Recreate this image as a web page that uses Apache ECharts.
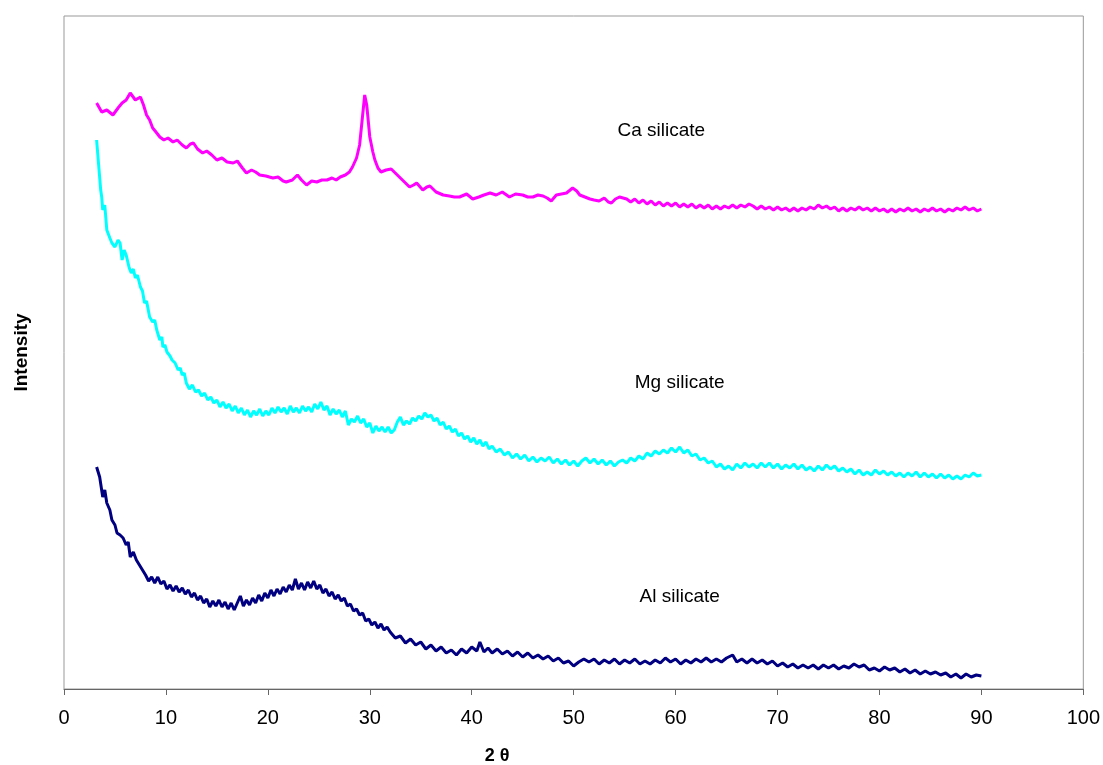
<!DOCTYPE html>
<html><head><meta charset="utf-8">
<script src="https://cdn.jsdelivr.net/npm/echarts@6/dist/echarts.min.js"></script>
<style>html,body{margin:0;padding:0;background:#fff}#c{width:1103px;height:765px}</style>
</head><body><div id="c"></div>
<script>
const xTicks = [0,10,20,30,40,50,60,70,80,90,100];
const seriesNames = ['Ca silicate','Mg silicate','Al silicate'];
const caSilicate = [[3.2,586],[3.7,577],[4.2,579],[4.8,574],[5.3,581],[5.7,586],[6.1,589],[6.5,596],[7.0,589],[7.5,592],[7.8,584],[8.1,574],[8.4,569],[8.7,561],[9.1,556],[9.4,552],[9.8,549],[10.2,551],[10.7,547],[11.1,549],[11.6,544],[12.0,541],[12.4,545],[12.7,546],[13.1,540],[13.6,536],[14.0,538],[14.5,534],[15.0,529],[15.5,531],[16.0,527],[16.6,526],[17.0,528],[17.5,521],[17.9,516],[18.4,519],[18.8,517],[19.2,514],[19.8,513],[20.5,511],[21.0,512],[21.5,508],[21.8,507],[22.4,509],[22.9,514],[23.3,509],[23.8,504],[24.3,508],[24.8,507],[25.3,509],[25.8,509],[26.3,511],[26.7,509],[27.1,512],[27.6,514],[28.0,517],[28.3,522],[28.7,531],[29.0,544],[29.3,574],[29.5,594],[29.7,584],[30.0,552],[30.3,537],[30.5,529],[30.8,521],[31.1,517],[31.6,519],[32.1,520],[32.5,516],[32.9,512],[33.4,507],[33.9,502],[34.3,504],[34.6,506],[35.2,499],[35.6,502],[35.9,503],[36.5,497],[37.2,494],[37.8,493],[38.3,492],[38.8,492],[39.5,495],[40.1,490],[40.7,492],[41.2,494],[41.8,496],[42.4,494],[43.0,497],[43.7,492],[44.3,495],[45.0,494],[45.5,492],[46.0,492],[46.5,494],[47.0,493],[47.4,491],[47.8,488],[48.3,494],[48.8,495],[49.3,496],[49.9,501],[50.3,498],[50.6,494],[51.1,492],[51.6,490],[52.0,489],[52.5,488],[53.0,491],[53.4,487],[53.7,486],[54.1,490],[54.5,492],[55.2,490],[55.6,487],[56.0,490],[56.4,486],[56.8,489],[57.2,485],[57.6,488],[58.0,484],[58.4,487],[58.8,483],[59.2,486],[59.6,483],[60.0,486],[60.4,482],[60.8,485],[61.2,482],[61.6,485],[62.0,481],[62.4,484],[62.8,481],[63.2,484],[63.6,480],[64.0,483],[64.4,480],[64.8,483],[65.2,481],[65.6,484],[66.0,481],[66.4,484],[66.8,482],[67.2,485],[67.6,483],[68.0,480],[68.4,483],[68.8,480],[69.2,482],[69.6,479],[70.0,482],[70.4,479],[70.8,481],[71.2,478],[71.6,481],[72.0,478],[72.4,481],[72.8,479],[73.2,482],[73.6,480],[74.0,484],[74.4,481],[74.8,483],[75.2,480],[75.6,482],[76.0,478],[76.4,481],[76.8,478],[77.2,481],[77.6,479],[78.0,482],[78.4,479],[78.8,481],[79.2,478],[79.6,481],[80.0,478],[80.4,480],[80.8,477],[81.2,480],[81.6,477],[82.0,480],[82.4,478],[82.8,481],[83.2,478],[83.6,480],[84.0,477],[84.4,480],[84.8,478],[85.2,481],[85.6,478],[86.0,480],[86.4,477],[86.8,480],[87.2,478],[87.6,481],[88.0,479],[88.4,482],[88.8,479],[89.2,481],[89.6,478],[90.0,480]];
const mgSilicate = [[3.2,549],[3.4,524],[3.6,499],[3.7,492],[3.8,479],[4.0,484],[4.2,459],[4.5,451],[4.7,446],[5.0,442],[5.3,449],[5.5,446],[5.7,429],[5.9,439],[6.1,434],[6.4,421],[6.6,416],[6.8,420],[7.0,411],[7.2,414],[7.5,402],[7.7,398],[7.9,386],[8.1,388],[8.4,372],[8.7,367],[8.9,369],[9.1,359],[9.4,349],[9.6,352],[9.7,342],[9.9,344],[10.1,337],[10.4,333],[10.6,329],[10.9,326],[11.2,319],[11.4,321],[11.6,314],[11.8,316],[12.0,306],[12.3,300],[12.6,304],[12.9,297],[13.2,299],[13.5,293],[13.8,296],[14.1,289],[14.4,292],[14.7,286],[15.0,289],[15.3,282],[15.6,287],[15.9,281],[16.2,285],[16.5,278],[16.8,283],[17.1,276],[17.4,281],[17.7,274],[18.0,279],[18.3,272],[18.6,278],[18.9,274],[19.2,280],[19.5,273],[19.8,278],[20.1,274],[20.4,281],[20.7,276],[21.0,282],[21.3,277],[21.6,281],[21.9,275],[22.2,283],[22.5,277],[22.8,281],[23.1,276],[23.4,283],[23.7,278],[24.0,282],[24.3,277],[24.6,285],[24.9,280],[25.2,287],[25.5,279],[25.8,283],[26.1,274],[26.4,280],[26.7,275],[27.0,279],[27.3,272],[27.6,278],[27.9,264],[28.2,270],[28.5,267],[28.8,273],[29.1,266],[29.4,270],[29.7,262],[30.0,266],[30.3,256],[30.6,263],[30.9,258],[31.2,262],[31.5,257],[31.8,262],[32.1,256],[32.4,259],[32.7,267],[33.0,272],[33.3,264],[33.6,268],[33.9,265],[34.2,271],[34.5,268],[34.8,273],[35.1,270],[35.4,276],[35.7,272],[36.0,274],[36.3,268],[36.6,271],[36.9,264],[37.2,267],[37.5,260],[37.8,263],[38.1,257],[38.4,260],[38.7,253],[39.0,256],[39.3,250],[39.6,253],[39.9,247],[40.2,251],[40.5,245],[40.8,249],[41.1,243],[41.4,247],[41.7,240],[42.0,243],[42.4,237],[42.8,240],[43.2,234],[43.6,237],[44.0,231],[44.4,235],[44.8,230],[45.2,234],[45.6,228],[46.0,232],[46.4,227],[46.8,231],[47.2,228],[47.6,232],[48.0,226],[48.4,230],[48.8,225],[49.2,229],[49.6,224],[50.0,228],[50.4,223],[50.8,228],[51.2,231],[51.6,226],[52.0,230],[52.4,225],[52.8,229],[53.2,224],[53.6,228],[54.0,223],[54.4,227],[54.8,229],[55.2,226],[55.6,231],[56.0,228],[56.4,233],[56.8,230],[57.2,236],[57.6,233],[58.0,238],[58.4,235],[58.8,239],[59.2,236],[59.6,241],[60.0,237],[60.4,242],[60.8,236],[61.2,239],[61.6,233],[62.0,235],[62.4,229],[62.8,231],[63.2,226],[63.6,228],[64.0,222],[64.4,225],[64.8,220],[65.2,223],[65.6,219],[66.0,225],[66.4,221],[66.8,226],[67.2,222],[67.6,225],[68.0,221],[68.4,226],[68.8,222],[69.2,226],[69.6,221],[70.0,225],[70.4,220],[70.8,224],[71.2,221],[71.6,225],[72.0,220],[72.4,224],[72.8,219],[73.2,222],[73.6,218],[74.0,223],[74.4,219],[74.8,224],[75.2,220],[75.6,223],[76.0,218],[76.4,221],[76.8,217],[77.2,220],[77.6,215],[78.0,219],[78.4,214],[78.8,217],[79.2,214],[79.6,219],[80.0,215],[80.4,218],[80.8,214],[81.2,217],[81.6,213],[82.0,216],[82.4,212],[82.8,216],[83.2,213],[83.6,217],[84.0,212],[84.4,216],[84.8,212],[85.2,215],[85.6,211],[86.0,215],[86.4,211],[86.8,214],[87.2,210],[87.6,213],[88.0,210],[88.4,214],[88.8,212],[89.2,216],[89.6,213],[90.0,214]];
const alSilicate = [[3.2,222],[3.5,212],[3.8,192],[4.0,199],[4.2,186],[4.5,179],[4.7,169],[5.0,164],[5.2,156],[5.5,154],[5.8,151],[6.1,144],[6.3,147],[6.5,132],[6.8,137],[7.1,129],[7.4,124],[7.7,119],[8.0,114],[8.3,108],[8.6,112],[8.9,106],[9.2,112],[9.5,105],[9.8,108],[10.1,100],[10.4,104],[10.7,98],[11.0,103],[11.3,97],[11.6,101],[11.9,95],[12.2,99],[12.5,92],[12.8,96],[13.1,89],[13.4,93],[13.7,86],[14.0,90],[14.3,82],[14.6,88],[14.9,83],[15.2,89],[15.5,82],[15.8,87],[16.1,80],[16.4,86],[16.7,79],[17.0,86],[17.3,93],[17.6,83],[17.9,89],[18.2,84],[18.5,91],[18.8,86],[19.1,94],[19.4,88],[19.7,96],[20.0,91],[20.3,99],[20.6,93],[20.9,100],[21.2,95],[21.5,102],[21.8,97],[22.1,104],[22.4,99],[22.7,110],[23.0,100],[23.3,106],[23.6,99],[23.9,107],[24.2,101],[24.5,108],[24.8,100],[25.1,104],[25.4,96],[25.7,100],[26.0,93],[26.3,97],[26.6,90],[26.9,94],[27.2,88],[27.5,91],[27.8,83],[28.1,85],[28.4,78],[28.7,80],[29.0,74],[29.3,76],[29.6,68],[29.9,70],[30.2,64],[30.5,67],[30.8,61],[31.1,65],[31.4,59],[31.7,62],[32.0,57],[32.5,51],[33.0,53],[33.5,46],[34.0,50],[34.5,44],[35.0,47],[35.5,40],[36.0,44],[36.5,38],[37.0,42],[37.5,36],[38.0,39],[38.5,34],[39.0,40],[39.5,36],[40.0,42],[40.5,38],[40.8,47],[41.2,37],[41.6,41],[42.0,36],[42.5,40],[43.0,35],[43.5,38],[44.0,33],[44.5,37],[45.0,32],[45.5,36],[46.0,31],[46.5,34],[47.0,30],[47.5,33],[48.0,28],[48.5,31],[49.0,26],[49.5,28],[50.0,23],[50.5,27],[51.0,30],[51.5,27],[52.0,30],[52.5,25],[53.0,29],[53.5,26],[54.0,30],[54.5,25],[55.0,29],[55.5,26],[56.0,30],[56.5,25],[57.0,28],[57.5,25],[58.0,29],[58.5,26],[59.0,31],[59.5,27],[60.0,30],[60.5,25],[61.0,29],[61.5,26],[62.0,30],[62.5,27],[63.0,31],[63.5,27],[64.0,30],[64.5,27],[65.0,31],[65.6,34],[66.0,27],[66.5,30],[67.0,26],[67.5,30],[68.0,26],[68.5,29],[69.0,25],[69.5,28],[70.0,23],[70.5,26],[71.0,22],[71.5,25],[72.0,21],[72.5,24],[73.0,21],[73.5,24],[74.0,20],[74.5,24],[75.0,21],[75.5,24],[76.0,20],[76.5,23],[77.0,21],[77.5,25],[78.0,22],[78.5,24],[79.0,19],[79.5,21],[80.0,18],[80.5,22],[81.0,19],[81.5,21],[82.0,17],[82.5,20],[83.0,16],[83.5,19],[84.0,15],[84.5,18],[85.0,15],[85.5,17],[86.0,14],[86.5,16],[87.0,12],[87.5,15],[88.0,11],[88.5,15],[89.0,12],[89.5,14],[90.0,13]];
const labelAnchors = [[58.6,558],[60.4,306],[60.4,92]];

const chart = echarts.init(document.getElementById('c'));
const font = '"Liberation Sans", Arial, sans-serif';
const colors = ['#FF00FF','#00FFFF','#000080'];
const datas = [caSilicate, mgSilicate, alSilicate];
chart.setOption({
  animation:false,
  backgroundColor:'#fff',
  grid:{left:64,right:19,top:16,bottom:76,show:true,borderColor:'#999',borderWidth:1},
  xAxis:{type:'value',min:0,max:100,interval:10,
    axisLine:{lineStyle:{color:'#666',width:1}},
    axisTick:{show:true,inside:false,length:6,lineStyle:{color:'#666'}},
    axisLabel:{fontFamily:font,fontSize:20,color:'#000',margin:19,
      formatter:v=>xTicks.includes(v)?String(v):''},
    splitLine:{show:false}},
  yAxis:{type:'value',min:0,max:673,
    name:'Intensity',nameLocation:'middle',nameGap:33,
    nameTextStyle:{fontFamily:font,fontSize:19,fontWeight:'bold',color:'#000'},
    axisLine:{show:false},axisTick:{show:false},axisLabel:{show:false},splitLine:{show:false}},
  series:datas.map((d,i)=>({type:'line',name:seriesNames[i],data:d,showSymbol:false,
    lineStyle:{color:colors[i],width:3},z:3-i}))
});
const g = labelAnchors.map((a,i)=>{
  const p = chart.convertToPixel({gridIndex:0},a);
  return {type:'text',x:p[0],y:p[1],style:{text:seriesNames[i],fontFamily:font,fontSize:19,fill:'#000',align:'center',verticalAlign:'middle'}};
});
g.push({type:'text',x:497,y:756,style:{text:'2 \u03b8',fontFamily:font,fontSize:18,fontWeight:'bold',fill:'#000',align:'center',verticalAlign:'middle'}});
chart.setOption({graphic:g});
</script></body></html>
